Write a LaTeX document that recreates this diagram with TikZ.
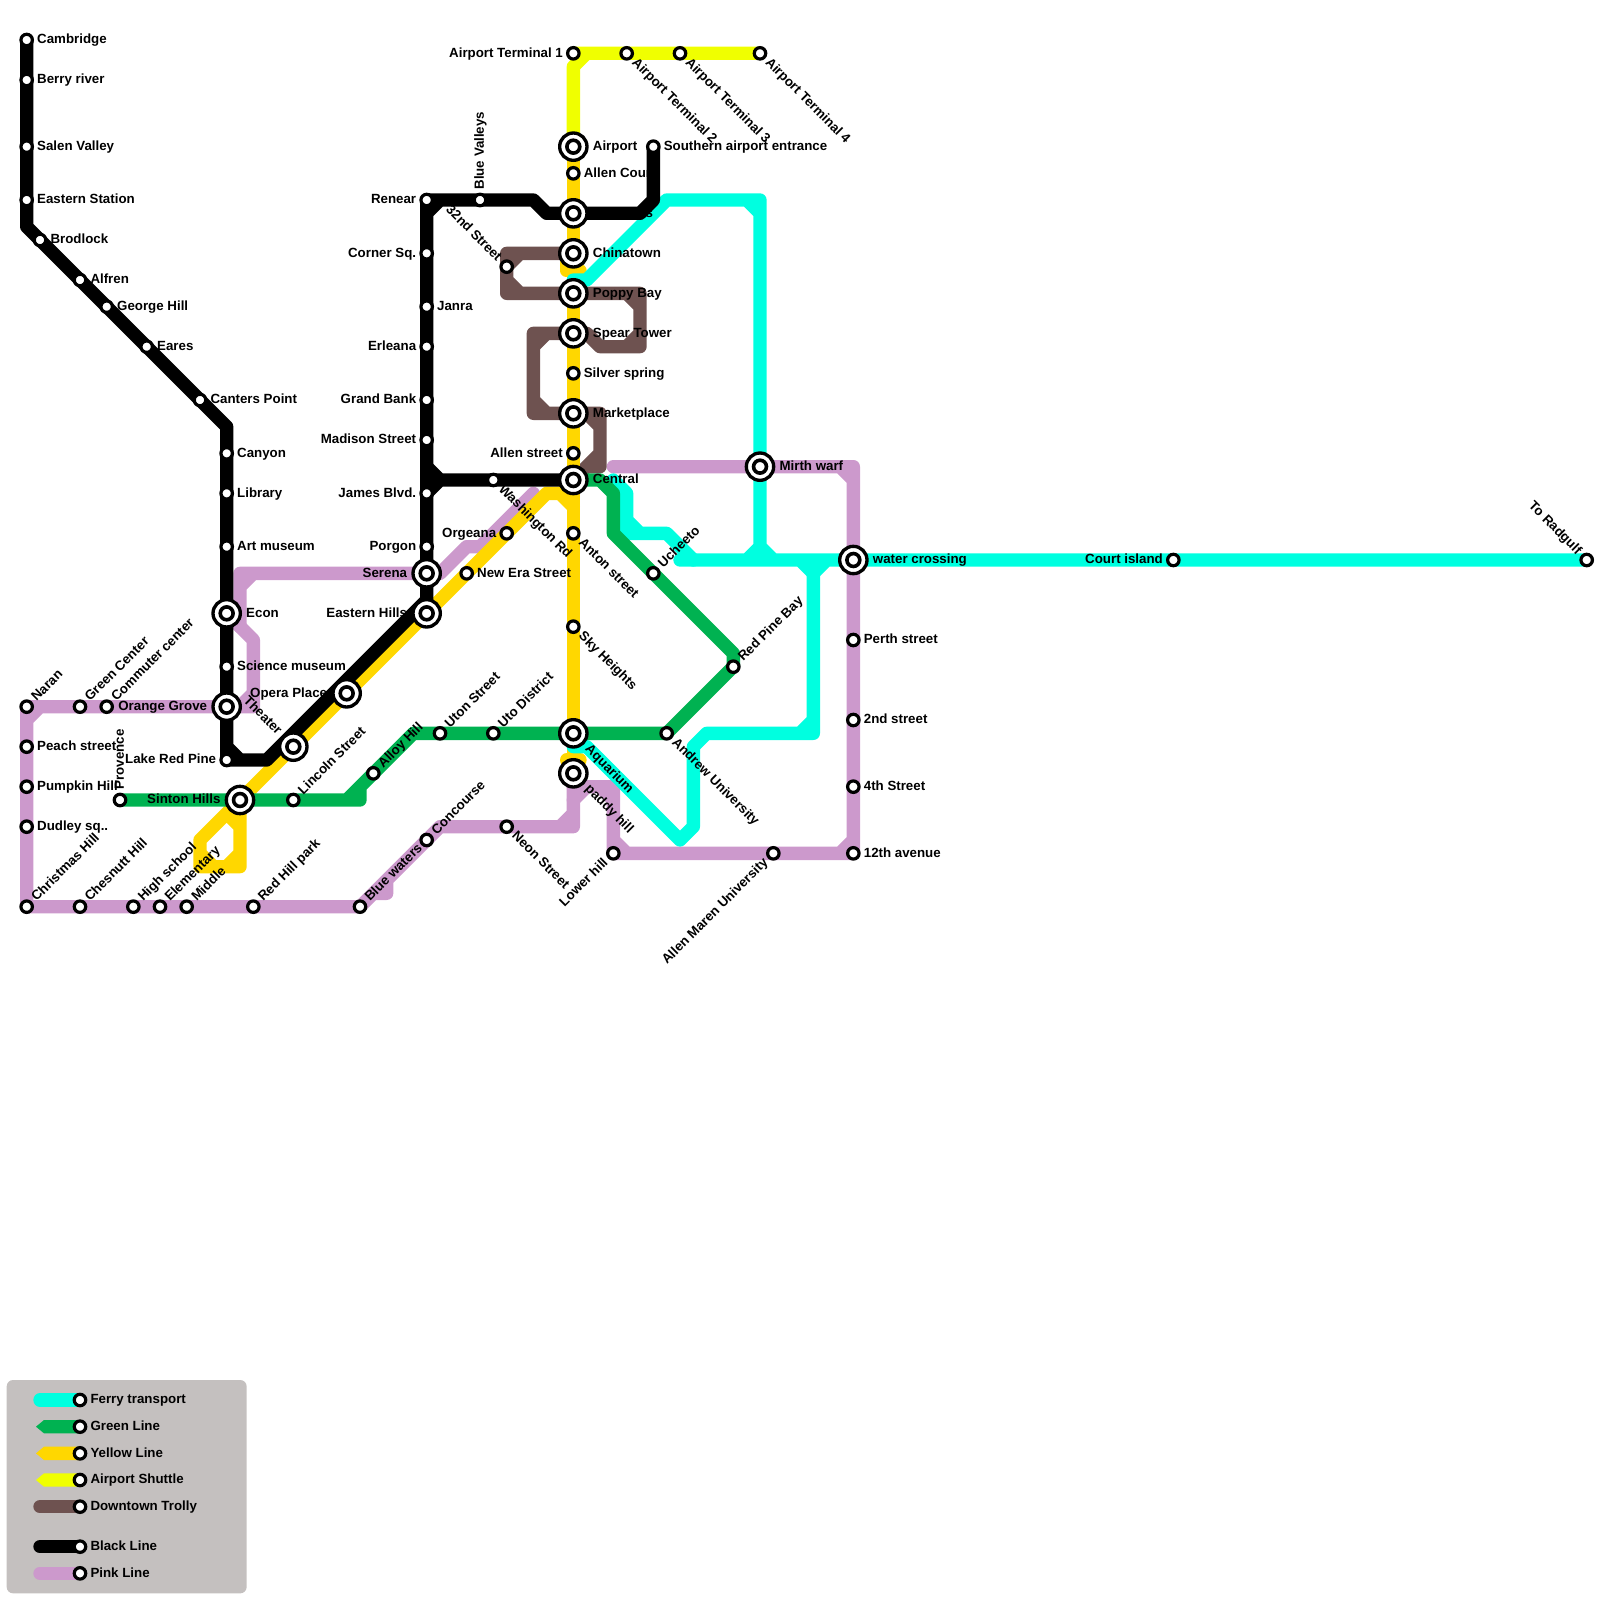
\documentclass[tikz,border=0pt]{standalone}
\usepackage{fontspec}
\setmainfont{Liberation Sans}
\usepackage{xcolor,tikz}
\definecolor{ferry}{HTML}{00FFE0}
\definecolor{greenl}{HTML}{00B251}
\definecolor{yellowl}{HTML}{FFD700}
\definecolor{shuttle}{HTML}{F0FF00}
\definecolor{trolly}{HTML}{6E5250}
\definecolor{pinkl}{HTML}{CC99CC}
\definecolor{legendbg}{HTML}{C4C0BF}
\pgfdeclarelayer{lines}
\pgfsetlayers{lines,main}
\tikzset{%
  ln/.style={line width=2.5mm,line cap=round,line join=round},
  station/.style={circle,draw=black,fill=white,line width=.6mm,inner sep=0pt,minimum size=2.15mm},
  hub/.style={circle,draw=black,fill=white,line width=.625mm,inner sep=0pt,minimum size=5.125mm,
    path picture={\draw[line width=.675mm] (path picture bounding box.center) circle (1.21mm);}},
  lbl/.style={font=\fontsize{7.1}{8.5}\selectfont\bfseries,inner ysep=0pt,inner xsep=1.9mm,text height=5.6pt,text depth=1.6pt},
  hublbl/.style={lbl,inner xsep=3.6mm},
  te/.style={anchor=west},
  tw/.style={anchor=east},
  tn/.style={rotate=90,anchor=west},
  tne/.style={rotate=45,anchor=west},
  tse/.style={rotate=-45,anchor=west},
  tsw/.style={rotate=45,anchor=east},
  tnw/.style={rotate=-45,anchor=east}
}

\begin{document}
\begin{tikzpicture}[x=2.5mm,y=-2.5mm]
  \useasboundingbox (0,0) rectangle (120,120);

  % stations
  \foreach \nm/\x/\y/\side/\txt in {
    cambridge/2/3/te/Cambridge, berry/2/6/te/Berry river, salen/2/11/te/Salen Valley,
    eastern/2/15/te/Eastern Station, brodlock/3/18/te/Brodlock, alfren/6/21/te/Alfren,
    george/8/23/te/George Hill, eares/11/26/te/Eares, canters/15/30/te/Canters Point,
    canyon/17/34/te/Canyon, library/17/37/te/Library, artmuseum/17/41/te/Art museum,
    science/17/50/te/Science museum, lakered/17/57/tw/Lake Red Pine,
    renear/32/15/tw/Renear, cornersq/32/19/tw/Corner Sq., janra/32/23/te/Janra,
    erleana/32/26/tw/Erleana, grandbank/32/30/tw/Grand Bank, madison/32/33/tw/Madison Street,
    james/32/37/tw/James Blvd., porgon/32/41/tw/Porgon, bluevalleys/36/15/tn/Blue Valleys,
    southern/49/11/te/Southern airport entrance, washington/37/36/tse/Washington Rd,
    street32/38/20/tnw/32nd Street, orgeana/38/40/tw/Orgeana, newera/35/43/te/New Era Street,
    allencourt/43/13/te/Allen Court, silver/43/28/te/Silver spring, allenst/43/34/tw/Allen street,
    anton/43/40/tse/Anton street, sky/43/47/tse/Sky Heights, neon/38/62/tse/Neon Street,
    concourse/32/63/tne/Concourse, bluewaters/27/68/tne/Blue waters, redhill/19/68/tne/Red Hill park,
    middle/14/68/tne/Middle, elementary/12/68/tne/Elementary, highschool/10/68/tne/High school,
    chesnutt/6/68/tne/Chesnutt Hill, christmas/2/68/tne/Christmas Hill, dudley/2/62/te/Dudley sq..,
    pumpkin/2/59/te/Pumpkin Hill, peach/2/56/te/Peach street, naran/2/53/tne/Naran,
    greencenter/6/53/tne/Green Center, commuter/8/53/tne/Commuter center, provence/9/60/tn/Provence,
    lincoln/22/60/tne/Lincoln Street, alloy/28/58/tne/Alloy Hill, uton/33/55/tne/Uton Street,
    uto/37/55/tne/Uto District, andrew/50/55/tse/Andrew University, ucheeto/49/43/tne/Ucheeto,
    redpine/55/50/tne/Red Pine Bay, terminala/43/4/tw/Airport Terminal 1,
    terminalb/47/4/tse/Airport Terminal 2, terminalc/51/4/tse/Airport Terminal 3,
    terminald/57/4/tse/Airport Terminal 4, perth/64/48/te/Perth street, second/64/54/te/2nd street,
    fourth/64/59/te/4th Street, twelfth/64/64/te/12th avenue, allenmaren/58/64/tsw/Allen Maren University,
    lowerhill/46/64/tsw/Lower hill, court/88/42/tw/Court island, radgulf/119/42/tnw/To Radgulf
  }{
    \node[station] (\nm) at (\x,\y) {};
    \node[\side,lbl] (\nm-t) at (\x,\y) {\txt};
  }

  % interchanges
  \foreach \nm/\x/\y/\side/\txt in {
    airport/43/11/te/Airport, chinatown/43/19/te/Chinatown, poppy/43/22/te/Poppy Bay,
    spear/43/25/te/Spear Tower, marketplace/43/31/te/Marketplace, central/43/36/te/Central,
    aquarium/43/55/tse/Aquarium, paddy/43/58/tse/paddy hill, econ/17/46/te/Econ,
    orange/17/53/tw/Orange Grove, theater/22/56/tnw/Theater, opera/26/52/tw/Opera Place,
    easternh/32/46/tw/Eastern Hills, serena/32/43/tw/Serena, sinton/18/60/tw/Sinton Hills,
    mirth/57/35/te/Mirth warf, water/64/42/te/water crossing
  }{
    \node[hub] (\nm) at (\x,\y) {};
    \node[\side,hublbl] (\nm-t) at (\x,\y) {\txt};
  }
  \node[hub] (halls) at (43,16) {};
  \node[lbl,inner xsep=0pt,anchor=east] (halls-t) at (49,16) {ls};

  % legend
  \foreach \nm/\y/\txt in {
    legferry/105/Ferry transport, leggreen/107/Green Line, legyellow/109/Yellow Line,
    legshuttle/111/Airport Shuttle, legtrolly/113/Downtown Trolly, legblack/116/Black Line,
    legpink/118/Pink Line
  }{
    \node[station] (\nm) at (6,\y) {};
    \node[te,lbl] (\nm-t) at (6,\y) {\txt};
  }

  \begin{pgfonlayer}{lines}
    \fill[legendbg,rounded corners=1.2mm] (.5,103.5) rectangle (18.5,119.5);
    \draw[ln,ferry] (3,105) -- (legferry.center);
    \draw[ln,trolly] (3,113) -- (legtrolly.center);
    \draw[ln,black] (3,116) -- (legblack.center);
    \draw[ln,pinkl] (3,118) -- (legpink.center);
    \foreach \col/\y in {greenl/107,yellowl/109,shuttle/111}
      \fill[\col] (2.7,\y) -- (3.3,\y-.5) -- (6,\y-.5) -- (6,\y+.5) -- (3.3,\y+.5) -- cycle;

    % pink
    \draw[ln,pinkl] (christmas.center) -- (naran.center) -- (orange.center) -- (19,53) -- (19,48) -- (econ.center)
      (3,53) -- (2,54) (19,52) -- (18,53);
    \draw[ln,pinkl] (18,47) -- (18,43) -- (serena.center) -- (33,43) -- (35,41) -- (36,41) -- (40,37)
      (18,44) -- (19,43);
    \draw[ln,pinkl] (christmas.center) -- (bluewaters.center) -- (33,62) -- (43,62) -- (paddy.center)
      (42,62) -- (43,61) (28,67) -- (29,67) -- (29,66);
    \draw[ln,pinkl] (43,60) -- (44,59) (43,59) -- (46,59) -- (46,64) -- (twelfth.center) -- (64,35) -- (46,35)
      (45,59) -- (46,60) (46,63) -- (47,64) (63,64) -- (64,63) (64,36) -- (63,35);

    % trolly
    \draw[ln,trolly] (chinatown.center) -- (38,19) -- (38,22) -- (poppy.center)
      (39,19) -- (38,20) (38,21) -- (39,22);
    \draw[ln,trolly] (poppy.center) -- (48,22) -- (48,26) -- (45,26) -- (44,25) -- (spear.center)
      (47,22) -- (48,23) (48,25) -- (47,26);
    \draw[ln,trolly] (spear.center) -- (40,25) -- (40,31) -- (marketplace.center)
      (41,25) -- (40,26) (40,30) -- (41,31);
    \draw[ln,trolly] (marketplace.center) -- (45,31) -- (45,35) -- (44,35) (44,31) -- (45,32) (45,34) -- (central.center);

    % yellow
    \draw[ln,yellowl] (airport.center) -- (paddy.center);
    \draw[ln,yellowl] (42.5,19.7) -- (42.5,20.3) -- (43.5,20.3);
    \draw[ln,yellowl] (42.5,57) -- (43.5,57);
    \draw[ln,yellowl] (43,38) -- (42,37) -- (41,37) -- (sinton.center) -- (15,63) -- (15,65) -- (18,65) -- (sinton.center)
      (15,64) -- (16,65) (17,65) -- (18,64) (17,61) -- (18,62);

    % airport shuttle
    \draw[ln,shuttle] (terminald.center) -- (44,4) -- (43,5) -- (airport.center) (terminala.center) -- (44,4);

    % ferry
    \draw[ln,ferry] (43,21) -- (44,21) -- (50,15) -- (57,15) -- (57,41) -- (56,42) (56,15) -- (57,16)
      (57,41) -- (58,42) (radgulf.center) -- (51,42) (61,43) -- (60,42) (61,43) -- (62,42);
    \draw[ln,ferry] (43,56) -- (44,56) -- (51,63) -- (52,62) -- (52,56) -- (53,55) -- (61,55) -- (61,43) (60,55) -- (61,54);
    \draw[ln,ferry] (46,36) -- (47,37) -- (47,40) -- (50,40) -- (52,42) (47,39) -- (48,40);

    % green
    \draw[ln,greenl] (provence.center) -- (27,60) -- (27,59) (26,60) -- (31,55) -- (andrew.center) -- (redpine.center) -- (55,49) -- (46,40) -- (46,37) -- (45,36) -- (central.center);

    % black
    \draw[ln,black] (cambridge.center) -- (2,17) -- (17,32) -- (lakered.center) -- (20,57) -- (32,45) -- (renear.center)
      -- (40,15) -- (41,16) -- (48,16) -- (49,15) -- (southern.center)
      (17,56) -- (18,57) (32,16) -- (33,15);
    \draw[ln,black] (32,36) -- (central.center) (32,35) -- (33,36) -- (32,37);
  \end{pgfonlayer}
\end{tikzpicture}
\end{document}
